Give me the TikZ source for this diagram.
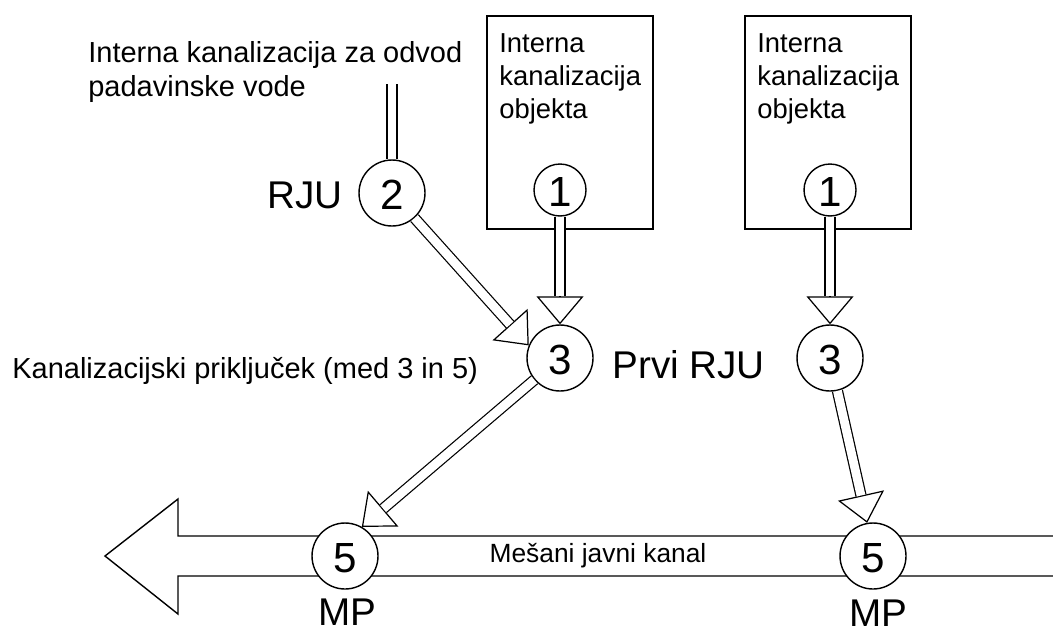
\documentclass[tikz,border=0pt]{standalone}
\usepackage{fontspec}
\setmainfont{Liberation Sans}
\usetikzlibrary{arrows.meta}
\tikzstyle{shaft}=[circle,draw,fill=white,line width=0.8pt,minimum size=1.32cm,inner sep=0pt,text height=19pt,text depth=0pt,font=\fontsize{24}{24}\selectfont]
\tikzstyle{smallshaft}=[circle,draw,fill=white,line width=0.8pt,minimum size=1.04cm,inner sep=0pt,text height=19pt,text depth=0pt,font=\fontsize{24}{24}\selectfont]
\tikzstyle{building} = [draw,line width=0.8pt]
\tikzstyle{sewer} = [draw,line width=0.8pt]
\tikzstyle{pipe} = [draw,line width=0.7pt,double=white,double distance=5pt]
\tikzstyle{pipetip} = [draw,line width=0.7pt,-{Triangle[open,length=0.56cm,width=0.94cm]}]
\tikzstyle{midtxt} = [inner sep=0pt,font=\fontsize{16.5}{19.3}\selectfont]
\tikzstyle{boxtext} = [inner sep=0pt,anchor=north west,align=left,font=\fontsize{15.6}{18.8}\selectfont]
\tikzstyle{bigtxt} = [inner sep=0pt,font=\fontsize{22}{22}\selectfont]
\tikzstyle{smalltxt} = [inner sep=0pt,font=\fontsize{15}{18}\selectfont]

\begin{document}
\begin{tikzpicture}[x=0.02cm,y=-0.02cm]
\useasboundingbox (0,0) rectangle (1053,632);

% buildings
\draw[building] (487,16) rectangle (653,229);
\draw[building] (745,16) rectangle (911,229);
\foreach \x/\name in {499/objtxta, 757/objtxtb}
    \node[boxtext] (\name) at (\x,33) {Interna\\kanalizacija\\objekta};

% public sewer
\draw[sewer] (1060,536) -- (178,536) -- (178,499) -- (105,556) -- (178,614) -- (178,576) -- (1060,576);
\node[smalltxt] (kanal) at (598,556) {Mešani javni kanal};

% shafts
\foreach \pos/ \name/ \num in {{(392,193)/c2/2}, {(560,358)/c3a/3}, {(830,358)/c3b/3}, {(345,556)/c5a/5}, {(873,556)/c5b/5}}
    \node[shaft] (\name) at \pos {\num};
\foreach \pos/ \name in {{(560,190)/c1a}, {(830,190)/c1b}}
    \node[smallshaft] (\name) at \pos {1};

% labels
\node[midtxt,anchor=north west,align=left] (rain) at (88,41) {Interna kanalizacija za odvod\\padavinske vode};
\node[midtxt,anchor=base west] (conn) at (12,378) {Kanalizacijski priključek (med 3 in 5)};
\node[bigtxt,anchor=base east] (rju) at (343,208) {RJU};
\node[bigtxt,anchor=base west] (prvi) at (612,378) {Prvi RJU};
\node[bigtxt,anchor=base] (mpa) at (347,625) {MP};
\node[bigtxt,anchor=base] (mpb) at (878,626) {MP};

% pipes
\coordinate (roof) at (392,84);
\draw[pipe] (roof) -- (c2);
\foreach \source/ \dest in {c2/c3a.158, c1a/c3a, c1b/c3b, c3a/c5a.60, c3b/c5b.100} {
    \draw[pipetip] (\source) -- (\dest);
    \draw[pipe,shorten >=0.56cm] (\source) -- (\dest);
}

\end{tikzpicture}
\end{document}
